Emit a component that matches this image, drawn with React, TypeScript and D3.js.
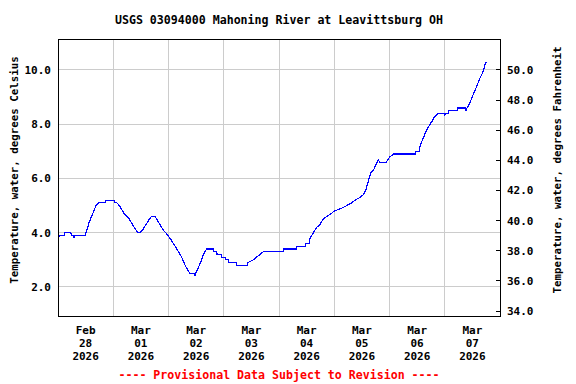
import React from 'react';
import * as d3 from 'd3';

// hours since Feb 28 2026 00:00 and water temperature (deg C)
const hours = [
  0.0, 0.9, 2.6, 3.0, 5.6, 5.9, 6.9, 7.0, 7.2, 11.7, 12.2, 13.6, 15.1, 16.5, 17.5, 20.6, 20.9, 24.3, 24.5, 25.6,
  26.6, 28.8, 31.0, 33.1, 33.9, 34.8, 35.6, 36.8, 38.2, 39.7, 40.6, 42.1, 43.6, 45.7, 47.8, 49.4, 51.6, 53.7, 55.2, 56.6,
  57.3, 59.3, 59.5, 59.7, 60.9, 62.4, 63.1, 64.6, 67.5, 67.8, 68.9, 69.1, 71.1, 71.2, 72.8, 73.0, 74.0, 74.2, 77.5, 77.7,
  82.3, 82.5, 84.8, 86.3, 87.7, 89.2, 97.9, 98.1, 103.6, 103.8, 107.3, 107.5, 109.0, 109.5, 110.9, 112.4, 113.8, 115.2, 116.7, 118.6,
  120.0, 123.2, 125.4, 127.6, 129.0, 131.2, 132.6, 133.8, 134.8, 135.8, 137.0, 138.1, 139.1, 139.7, 142.5, 143.4, 144.2, 145.7, 155.1, 155.3,
  156.8, 157.3, 158.7, 160.2, 161.6, 162.4, 163.8, 165.2, 167.7, 167.9, 168.3, 169.6, 169.8, 173.5, 173.7, 176.8, 177.2, 177.7, 179.0, 180.4,
  181.9, 183.3, 184.5, 185.5, 186.2
];
const tempC = [
  3.8, 3.9, 3.9, 4.0, 4.0, 3.9, 3.9, 3.8, 3.9, 3.9, 4.0, 4.4, 4.7, 5.0, 5.1, 5.1, 5.2, 5.2, 5.1, 5.1,
  5.0, 4.7, 4.5, 4.2, 4.1, 4.0, 4.0, 4.1, 4.3, 4.5, 4.6, 4.6, 4.4, 4.1, 3.9, 3.7, 3.4, 3.1, 2.8, 2.6,
  2.5, 2.5, 2.4, 2.5, 2.7, 3.0, 3.2, 3.4, 3.4, 3.3, 3.3, 3.2, 3.2, 3.1, 3.1, 3.0, 3.0, 2.9, 2.9, 2.8,
  2.8, 2.9, 3.0, 3.1, 3.2, 3.3, 3.3, 3.4, 3.4, 3.5, 3.5, 3.6, 3.6, 3.8, 4.0, 4.2, 4.3, 4.5, 4.6, 4.7,
  4.8, 4.9, 5.0, 5.1, 5.2, 5.3, 5.4, 5.6, 5.9, 6.2, 6.3, 6.5, 6.7, 6.6, 6.6, 6.7, 6.8, 6.9, 6.9, 7.0,
  7.0, 7.2, 7.5, 7.8, 8.0, 8.1, 8.3, 8.4, 8.4, 8.3, 8.4, 8.4, 8.5, 8.5, 8.6, 8.6, 8.5, 8.6, 8.8, 9.1,
  9.4, 9.7, 9.9, 10.2, 10.3
];

const celsiusTicks = [2, 4, 6, 8, 10];
const fahrenheitTicks = [34, 36, 38, 40, 42, 44, 46, 48, 50];
const dayMonths = ['Feb', 'Mar', 'Mar', 'Mar', 'Mar', 'Mar', 'Mar', 'Mar'];
const dayNums = ['28', '01', '02', '03', '04', '05', '06', '07'];
const dayYears = ['2026', '2026', '2026', '2026', '2026', '2026', '2026', '2026'];

const title = 'USGS 03094000 Mahoning River at Leavittsburg OH';
const leftLabel = 'Temperature, water, degrees Celsius';
const rightLabel = 'Temperature, water, degrees Fahrenheit';
const footer = '---- Provisional Data Subject to Revision ----';

const W = 576;
const H = 384;
const M = { left: 58, right: 500, top: 39, bottom: 316 };
const FONT = '"DejaVu Sans Mono", monospace';

export default function App() {
  const svgRef = React.useRef<SVGSVGElement>(null);

  React.useEffect(() => {
    const svg = d3.select(svgRef.current);
    svg.selectAll('*').remove();

    const start = Date.UTC(2026, 1, 28);
    const x = d3.scaleUtc()
      .domain([new Date(start), new Date(Date.UTC(2026, 2, 8))])
      .range([M.left, M.right]);
    const y = d3.scaleLinear().domain([0.93, 11.14]).range([M.bottom, M.top]);
    const yF = d3.scaleLinear()
      .domain([0.93 * 1.8 + 32, 11.14 * 1.8 + 32])
      .range([M.bottom, M.top]);

    const days = d3.utcDay.range(new Date(start), new Date(Date.UTC(2026, 2, 8)));

    // grid
    const grid = svg.append('g').attr('stroke', '#cccccc').attr('stroke-width', 1).attr('shape-rendering', 'crispEdges');
    grid.selectAll('line.h')
      .data(celsiusTicks)
      .join('line')
      .attr('x1', M.left).attr('x2', M.right)
      .attr('y1', d => y(d)).attr('y2', d => y(d));
    grid.selectAll('line.v')
      .data(days.slice(1))
      .join('line')
      .attr('x1', d => x(d)).attr('x2', d => x(d))
      .attr('y1', M.top).attr('y2', M.bottom);

    // data line
    const pts = hours.map((h, i) => [start + h * 3600e3, tempC[i]] as [number, number]);
    const line = d3.line<[number, number]>()
      .x(d => x(new Date(d[0])))
      .y(d => y(d[1]));
    svg.append('path')
      .attr('d', line(pts))
      .attr('fill', 'none')
      .attr('stroke', '#0000ff')
      .attr('stroke-width', 1.2)
      .attr('shape-rendering', 'crispEdges');

    // frame
    svg.append('rect')
      .attr('x', M.left).attr('y', M.top)
      .attr('width', M.right - M.left).attr('height', M.bottom - M.top)
      .attr('fill', 'none').attr('stroke', '#000').attr('stroke-width', 1)
      .attr('shape-rendering', 'crispEdges');

    // right axis ticks
    svg.append('g').selectAll('line')
      .data(fahrenheitTicks)
      .join('line')
      .attr('x1', M.right - 4).attr('x2', M.right)
      .attr('y1', d => yF(d)).attr('y2', d => yF(d))
      .attr('stroke', '#000').attr('shape-rendering', 'crispEdges');

    const txt = svg.append('g')
      .attr('font-family', FONT)
      .attr('font-weight', 'bold')
      .attr('fill', '#000');

    txt.selectAll('text.cl')
      .data(celsiusTicks)
      .join('text')
      .attr('x', 51).attr('y', d => y(d))
      .attr('dy', '0.35em')
      .attr('text-anchor', 'end')
      .attr('font-size', 11)
      .text(d => d.toFixed(1));

    txt.selectAll('text.fl')
      .data(fahrenheitTicks)
      .join('text')
      .attr('x', 507).attr('y', d => yF(d))
      .attr('dy', '0.35em')
      .attr('text-anchor', 'start')
      .attr('font-size', 11)
      .text(d => d.toFixed(1));

    const dayG = txt.selectAll('g.day')
      .data(days)
      .join('g')
      .attr('transform', d => `translate(${x(d3.utcHour.offset(d, 12))},0)`)
      .attr('font-size', 11)
      .attr('text-anchor', 'middle');
    dayG.append('text').attr('y', 334).text((d, i) => dayMonths[i]);
    dayG.append('text').attr('y', 347).text((d, i) => dayNums[i]);
    dayG.append('text').attr('y', 360).text((d, i) => dayYears[i]);

    txt.append('text')
      .attr('x', (M.left + M.right) / 2).attr('y', 24)
      .attr('text-anchor', 'middle').attr('font-size', 11.6)
      .text(title);

    txt.append('text')
      .attr('transform', `translate(18,${170}) rotate(-90)`)
      .attr('text-anchor', 'middle').attr('font-size', 10.8)
      .text(leftLabel);

    txt.append('text')
      .attr('transform', `translate(561,${170}) rotate(-90)`)
      .attr('text-anchor', 'middle').attr('font-size', 10.8)
      .text(rightLabel);

    txt.append('text')
      .attr('x', (M.left + M.right) / 2).attr('y', 379)
      .attr('text-anchor', 'middle').attr('font-size', 11.6)
      .attr('fill', '#ff0000')
      .text(footer);
  }, []);

  return (
    <svg
      ref={svgRef}
      width={W}
      height={H}
      style={{ position: 'absolute', left: 0, top: 0, background: '#fff' }}
    />
  );
}
